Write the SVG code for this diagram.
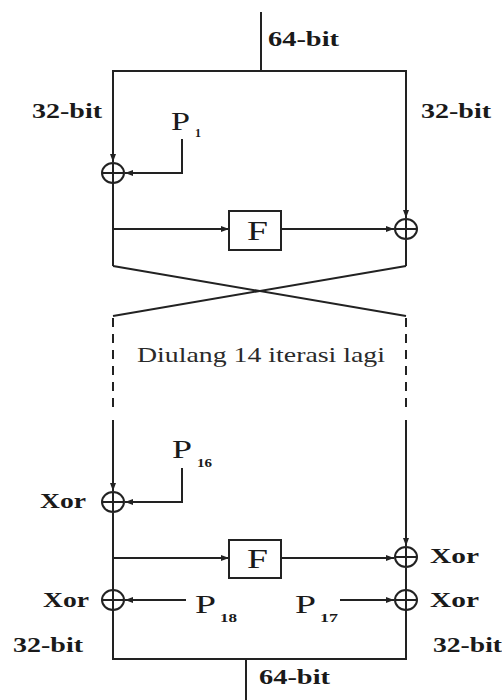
<svg xmlns="http://www.w3.org/2000/svg" width="502" height="700" viewBox="0 0 502 700">
<defs>
<marker id="ah" viewBox="0 0 8 8" refX="8" refY="4" markerWidth="8" markerHeight="8" markerUnits="userSpaceOnUse" orient="auto">
<path d="M0,1 L8,4 L0,7 Z" fill="#222"/>
</marker>
<style>
.ln{stroke:#222;stroke-width:2;fill:none}
.dash{stroke:#222;stroke-width:2;fill:none;stroke-dasharray:9,7}
.xor{stroke:#222;stroke-width:2;fill:none}
.lbl{font-family:"Liberation Serif",serif;font-weight:bold;font-size:22px;fill:#1a1a1a}
.p{font-family:"Liberation Serif",serif;font-size:26px;fill:#1a1a1a}
.sub{font-family:"Liberation Serif",serif;font-weight:bold;font-size:12px;fill:#1a1a1a}
.f{font-family:"Liberation Serif",serif;font-size:28px;fill:#1a1a1a}
.note{font-family:"Liberation Serif",serif;font-size:22px;fill:#2a2a2a}
</style>
</defs>
<rect width="502" height="700" fill="#fff"/>
<g id="connectors">
<line class="ln" x1="261" y1="12" x2="261" y2="71"/>
<polyline class="ln" points="113,71 406,71 406,218" marker-end="url(#ah)"/>
<line class="ln" x1="113" y1="70" x2="113" y2="162" marker-end="url(#ah)"/>
<polyline class="ln" points="182,139 182,173 125,173" marker-end="url(#ah)"/>
<line class="ln" x1="113" y1="183" x2="113" y2="266"/>
<line class="ln" x1="113" y1="229" x2="229" y2="229" marker-end="url(#ah)"/>
<line class="ln" x1="281" y1="229" x2="394" y2="229" marker-end="url(#ah)"/>
<line class="ln" x1="406" y1="240" x2="406" y2="266"/>
<polyline class="ln" points="113,266 406,316"/>
<polyline class="ln" points="406,266 113,316"/>
<line class="dash" x1="113" y1="318" x2="113" y2="412"/>
<line class="dash" x1="406" y1="318" x2="406" y2="412"/>
<line class="ln" x1="113" y1="420" x2="113" y2="491" marker-end="url(#ah)"/>
<line class="ln" x1="406" y1="420" x2="406" y2="546" marker-end="url(#ah)"/>
<polyline class="ln" points="182,468 182,502 125,502" marker-end="url(#ah)"/>
<line class="ln" x1="113" y1="513" x2="113" y2="659"/>
<line class="ln" x1="113" y1="558" x2="229" y2="558" marker-end="url(#ah)"/>
<line class="ln" x1="281" y1="558" x2="394" y2="558" marker-end="url(#ah)"/>
<line class="ln" x1="406" y1="568" x2="406" y2="659"/>
<line class="ln" x1="186" y1="600" x2="125" y2="600" marker-end="url(#ah)"/>
<line class="ln" x1="340" y1="600" x2="394" y2="600" marker-end="url(#ah)"/>
<line class="ln" x1="112" y1="659" x2="407" y2="659"/>
<line class="ln" x1="246" y1="659" x2="246" y2="700"/>
</g>
<g id="xor1"><ellipse class="xor" cx="113" cy="173" rx="11" ry="10"/><line class="ln" x1="102" y1="173" x2="124" y2="173"/><line class="ln" x1="113" y1="163" x2="113" y2="183"/></g>
<g id="xor2"><ellipse class="xor" cx="406" cy="229" rx="11" ry="10"/><line class="ln" x1="395" y1="229" x2="417" y2="229"/><line class="ln" x1="406" y1="219" x2="406" y2="239"/></g>
<g id="xor3"><ellipse class="xor" cx="113" cy="502" rx="11" ry="10"/><line class="ln" x1="102" y1="502" x2="124" y2="502"/><line class="ln" x1="113" y1="492" x2="113" y2="512"/></g>
<g id="xor4"><ellipse class="xor" cx="406" cy="557" rx="11" ry="10"/><line class="ln" x1="395" y1="557" x2="417" y2="557"/><line class="ln" x1="406" y1="547" x2="406" y2="567"/></g>
<g id="xor5"><ellipse class="xor" cx="113" cy="600" rx="11" ry="10"/><line class="ln" x1="102" y1="600" x2="124" y2="600"/><line class="ln" x1="113" y1="590" x2="113" y2="610"/></g>
<g id="xor6"><ellipse class="xor" cx="406" cy="600" rx="11" ry="10"/><line class="ln" x1="395" y1="600" x2="417" y2="600"/><line class="ln" x1="406" y1="590" x2="406" y2="610"/></g>
<g id="f1"><rect class="ln" x="229" y="211" width="52" height="39"/><text class="f" x="247" y="240" textLength="21" lengthAdjust="spacingAndGlyphs">F</text></g>
<g id="f2"><rect class="ln" x="229" y="540" width="52" height="38"/><text class="f" x="247" y="568" textLength="21" lengthAdjust="spacingAndGlyphs">F</text></g>
<g id="labels">
<text class="lbl" x="268" y="46" textLength="71" lengthAdjust="spacingAndGlyphs">64-bit</text>
<text class="lbl" x="32" y="118" textLength="70" lengthAdjust="spacingAndGlyphs">32-bit</text>
<text class="lbl" x="421" y="118" textLength="70" lengthAdjust="spacingAndGlyphs">32-bit</text>
<text class="p" x="171" y="130" textLength="19" lengthAdjust="spacingAndGlyphs">P</text><text class="sub" x="195" y="137">1</text>
<text class="note" x="137" y="362" textLength="248" lengthAdjust="spacingAndGlyphs">Diulang 14 iterasi lagi</text>
<text class="p" x="172" y="458" textLength="20" lengthAdjust="spacingAndGlyphs">P</text><text class="sub" x="197" y="467" textLength="15" lengthAdjust="spacingAndGlyphs">16</text>
<text class="lbl" x="40" y="508" textLength="46" lengthAdjust="spacingAndGlyphs">Xor</text>
<text class="lbl" x="430" y="563" textLength="49" lengthAdjust="spacingAndGlyphs">Xor</text>
<text class="lbl" x="43" y="607" textLength="46" lengthAdjust="spacingAndGlyphs">Xor</text>
<text class="lbl" x="430" y="607" textLength="49" lengthAdjust="spacingAndGlyphs">Xor</text>
<text class="p" x="195" y="613" textLength="21" lengthAdjust="spacingAndGlyphs">P</text><text class="sub" x="220" y="622" textLength="17" lengthAdjust="spacingAndGlyphs">18</text>
<text class="p" x="295" y="613" textLength="21" lengthAdjust="spacingAndGlyphs">P</text><text class="sub" x="320" y="622" textLength="18" lengthAdjust="spacingAndGlyphs">17</text>
<text class="lbl" x="13" y="652" textLength="70" lengthAdjust="spacingAndGlyphs">32-bit</text>
<text class="lbl" x="433" y="652" textLength="69" lengthAdjust="spacingAndGlyphs">32-bit</text>
<text class="lbl" x="259" y="684" textLength="71" lengthAdjust="spacingAndGlyphs">64-bit</text>
</g>
</svg>
